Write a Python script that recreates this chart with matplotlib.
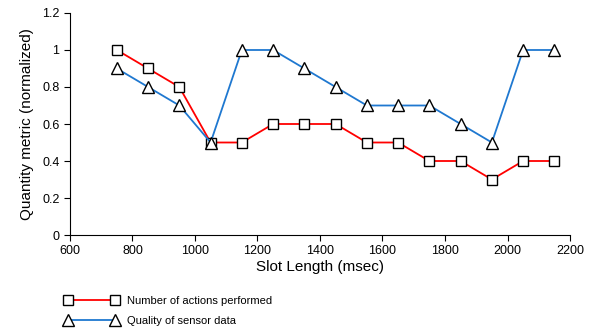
import matplotlib
matplotlib.use("Agg")
import matplotlib.pyplot as plt

plt.rcParams['font.family'] = ['Liberation Sans', 'DejaVu Sans']

slot_length = [750, 850, 950, 1050, 1150, 1250, 1350, 1450, 1550, 1650, 1750, 1850, 1950, 2050, 2150]
actions = [1.0, 0.9, 0.8, 0.5, 0.5, 0.6, 0.6, 0.6, 0.5, 0.5, 0.4, 0.4, 0.3, 0.4, 0.4]
quality = [0.9, 0.8, 0.7, 0.5, 1.0, 1.0, 0.9, 0.8, 0.7, 0.7, 0.7, 0.6, 0.5, 1.0, 1.0]

xticks = [600, 800, 1000, 1200, 1400, 1600, 1800, 2000, 2200]
yticks = [0, 0.2, 0.4, 0.6, 0.8, 1.0, 1.2]
ytick_labels = ['0', '0.2', '0.4', '0.6', '0.8', '1', '1.2']

fig = plt.figure(figsize=(5.95, 3.29), dpi=100)
ax = fig.add_axes([0.1176, 0.2857, 0.8404, 0.6748])

ax.plot(slot_length, actions, color='#ff0000', lw=1.3, marker='s', ms=7,
        mfc='white', mec='black', mew=1.0, label='Number of actions performed')
ax.plot(slot_length, quality, color='#1f78d0', lw=1.3, marker='^', ms=8,
        mfc='white', mec='black', mew=1.0, label='Quality of sensor data')

ax.set_xlim(600, 2200)
ax.set_ylim(0, 1.2)
ax.set_xticks(xticks)
ax.set_yticks(yticks)
ax.set_yticklabels(ytick_labels)
ax.tick_params(labelsize=9, direction='out', length=4, width=0.8)
for s in ['top', 'right']:
    ax.spines[s].set_visible(False)
ax.set_xlabel('Slot Length (msec)', fontsize=11, labelpad=2)
ax.set_ylabel('Quantity metric (normalized)', fontsize=11, labelpad=6)

fig.legend(loc='lower left', bbox_to_anchor=(0.092, -0.022), frameon=False,
           numpoints=2, handlelength=4.8, fontsize=8, labelspacing=0.95,
           handletextpad=0.8)

fig.savefig('out.png', dpi=100)
